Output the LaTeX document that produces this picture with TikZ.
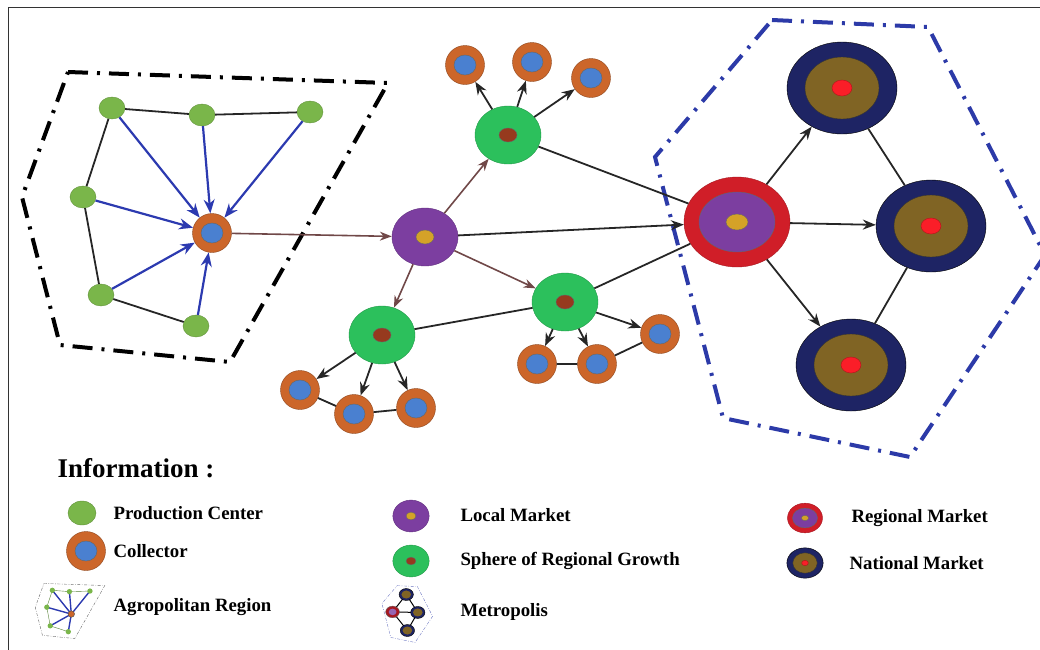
\documentclass[tikz,border=0pt]{standalone}
\usepackage{fontspec}
\setmainfont{Liberation Serif}
\usetikzlibrary{shapes.geometric,arrows.meta}

\definecolor{prodgreen}{RGB}{122,182,74}
\definecolor{collorange}{RGB}{204,102,42}
\definecolor{collblue}{RGB}{74,128,208}
\definecolor{localpurple}{RGB}{124,62,160}
\definecolor{coregold}{RGB}{212,162,40}
\definecolor{spheregreen}{RGB}{44,192,92}
\definecolor{corebrown}{RGB}{150,58,30}
\definecolor{regred}{RGB}{208,30,40}
\definecolor{natnavy}{RGB}{30,36,100}
\definecolor{natolive}{RGB}{128,100,36}
\definecolor{natred}{RGB}{250,30,40}
\definecolor{arrowbrown}{RGB}{112,72,72}
\definecolor{flowblue}{RGB}{44,58,176}
\definecolor{regionblue}{RGB}{44,58,168}

\begin{document}
\begin{tikzpicture}[x=1pt,y=-1pt,
  linkline/.style={black!85, line width=1.8pt},
  arr/.style={linkline, -{Stealth[length=13pt,width=10pt]}},
  feed/.style={flowblue, line width=2.2pt, -{Stealth[length=14pt,width=11pt]}},
  growth/.style={arrowbrown, line width=1.6pt, -{Stealth[length=12pt,width=9pt]}},
  zone/.style={line width=4pt, dash pattern=on 20pt off 9pt on 3pt off 9pt},
  legtext/.style={anchor=west, font=\bfseries\fontsize{18.8}{22}\selectfont},
  prod/.style={ellipse, draw=prodgreen!80!black, fill=prodgreen, minimum width=26, minimum height=22, inner sep=0},
  collector/.style={circle, draw=collorange!70!black, fill=collorange, minimum size=39, inner sep=0,
    path picture={\filldraw[fill=collblue, draw=black!60] (path picture bounding box.center) ellipse [x radius=11pt, y radius=10pt];}},
  localmk/.style={ellipse, draw=localpurple!80!black, fill=localpurple, minimum width=66, minimum height=58, inner sep=0,
    path picture={\filldraw[fill=coregold, draw=black!60] (path picture bounding box.center) ellipse [x radius=9pt, y radius=7pt];}},
  spheremk/.style={ellipse, draw=spheregreen!80!black, fill=spheregreen, minimum width=66, minimum height=58, inner sep=0,
    path picture={\filldraw[fill=corebrown, draw=black!60] (path picture bounding box.center) ellipse [x radius=9pt, y radius=7pt];}},
  regionalmk/.style={ellipse, draw=regred!80!black, fill=regred, minimum width=106, minimum height=90, inner sep=0,
    path picture={\filldraw[fill=localpurple, draw=black!60] (path picture bounding box.center) ellipse [x radius=38pt, y radius=30pt];
      \filldraw[fill=coregold, draw=black!60] (path picture bounding box.center) ellipse [x radius=11pt, y radius=8pt];}},
  nationalmk/.style={ellipse, draw=black, fill=natnavy, minimum width=110, minimum height=92, inner sep=0,
    path picture={\filldraw[fill=natolive, draw=black!80] (path picture bounding box.center) ellipse [x radius=37pt, y radius=31pt];
      \filldraw[fill=natred, draw=natred!70!black] (path picture bounding box.center) ellipse [x radius=10pt, y radius=8pt];}}
]
\useasboundingbox (0,0) rectangle (1040,649);
\draw[black!80, line width=1pt] (8,660) -- (8,7) -- (1050,7);

% agropolitan region
\draw[zone] (68,72) -- (388,83) -- (230,362) -- (60,345) -- (22,197) -- cycle;
\node[prod] (p1) at (112,108) {};
\node[prod] (p2) at (202,115) {};
\node[prod] (p3) at (310,112) {};
\node[prod] (p4) at (83,197) {};
\node[prod] (p5) at (101,295) {};
\node[prod] (p6) at (196,326) {};
\node[collector] (c0) at (212,233) {};
\draw[linkline] (p1) -- (p2) -- (p3);
\draw[linkline] (p1) -- (p4) -- (p5) -- (p6);
\foreach \i in {1,...,6} {
  \draw[feed] (p\i) -- (c0);
}

% metropolis
\draw[zone, regionblue] (772,20) -- (928,27) -- (1045,255) -- (910,457) -- (723,418) -- (655,157) -- cycle;

% markets and growth spheres
\node[localmk] (loc) at (425,237) {};
\node[spheremk] (s1) at (508,135) {};
\node[spheremk] (s2) at (565,302) {};
\node[spheremk] (s3) at (382,335) {};
\node[regionalmk] (reg) at (737,222) {};
\node[nationalmk] (n1) at (842,88) {};
\node[nationalmk] (n2) at (931,226) {};
\node[nationalmk] (n3) at (851,365) {};

\node[collector] (a1) at (465,65) {};
\node[collector] (a2) at (532,62) {};
\node[collector] (a3) at (591,78) {};
\node[collector] (b1) at (300,390) {};
\node[collector] (b2) at (354,414) {};
\node[collector] (b3) at (416,408) {};
\node[collector] (d1) at (537,364) {};
\node[collector] (d2) at (597,364) {};
\node[collector] (d3) at (660,334) {};

\draw[growth] (c0) -- (loc);
\foreach \s in {s1,s2,s3} {
  \draw[growth] (loc) -- (\s);
}
\draw[arr] (loc) -- (reg);
\draw[linkline] (s1) -- (reg);
\draw[linkline] (s3) -- (s2) -- (reg);
\foreach \c in {a1,a2,a3} {
  \draw[arr] (s1) -- (\c);
}
\foreach \c in {b1,b2,b3} {
  \draw[arr] (s3) -- (\c);
}
\foreach \c in {d1,d2,d3} {
  \draw[arr] (s2) -- (\c);
}
\draw[linkline] (b1) -- (b2) -- (b3);
\draw[linkline] (d1) -- (d2) -- (d3);
\foreach \n in {n1,n2,n3} {
  \draw[arr] (reg) -- (\n);
}
\draw[linkline] (n1) -- (n2) -- (n3);

% legend
\node[anchor=west, font=\bfseries\fontsize{27}{32}\selectfont] (info) at (54,468) {Information :};
\node[prod, minimum width=28, minimum height=24] (kprod) at (82,513) {};
\node[legtext] (tprod) at (110,513) {Production Center};
\node[collector] (kcoll) at (86,551) {};
\node[legtext] (tcoll) at (110,551) {Collector};
\begin{scope}[shift={(70,611)}, scale=0.19, shift={(-205,-217)}]
  \draw[black!60, thin, dash pattern=on 3pt off 1.5pt on 0.7pt off 1.5pt] (68,72) -- (388,83) -- (230,362) -- (60,345) -- (22,197) -- cycle;
  \draw[prodgreen!70!black, thin] (112,108) -- (202,115) -- (310,112) (112,108) -- (83,197) -- (101,295) -- (196,326);
  \foreach \q in {(112,108),(202,115),(310,112),(83,197),(101,295),(196,326)} {
    \draw[flowblue, line width=1.4pt] \q -- (212,233);
    \fill[prodgreen] \q circle (14);
  }
  \filldraw[fill=collorange, draw=black!70] (212,233) circle (17);
\end{scope}
\node[legtext] (tagro) at (110,607) {Agropolitan Region};

\node[localmk, scale=0.55, transform shape] (kloc) at (411,516) {};
\node[legtext] (tloc) at (457,515) {Local Market};
\node[spheremk, scale=0.55, transform shape] (ksph) at (411,561) {};
\node[legtext] (tsph) at (457,561) {Sphere of Regional Growth};
\begin{scope}[shift={(407,614)}, scale=0.13, shift={(-848,-238)}]
  \draw[regionblue!70, thin, dash pattern=on 3pt off 1.5pt on 0.7pt off 1.5pt] (772,20) -- (928,27) -- (1045,255) -- (910,457) -- (723,418) -- (655,157) -- cycle;
  \draw[black, line width=1pt] (842,88) -- (931,226) -- (851,365);
  \foreach \q in {(842,88),(931,226),(851,365)} {
    \draw[black, line width=1pt] (737,222) -- \q;
    \filldraw[fill=natnavy, draw=black] \q ellipse [x radius=55, y radius=46];
    \fill[natolive] \q ellipse [x radius=37, y radius=31];
  }
  \filldraw[fill=regred!80!black, draw=black!60] (737,222) ellipse [x radius=53, y radius=45];
  \fill[localpurple!80] (737,222) ellipse [x radius=30, y radius=25];
\end{scope}
\node[legtext] (tmet) at (457,612) {Metropolis};

\node[regionalmk, scale=0.33, transform shape] (kreg) at (805,518) {};
\node[legtext] (treg) at (848,518) {Regional Market};
\node[nationalmk, scale=0.33, transform shape] (knat) at (805,563) {};
\node[legtext] (tnat) at (846,563) {National Market};
\end{tikzpicture}
\end{document}
